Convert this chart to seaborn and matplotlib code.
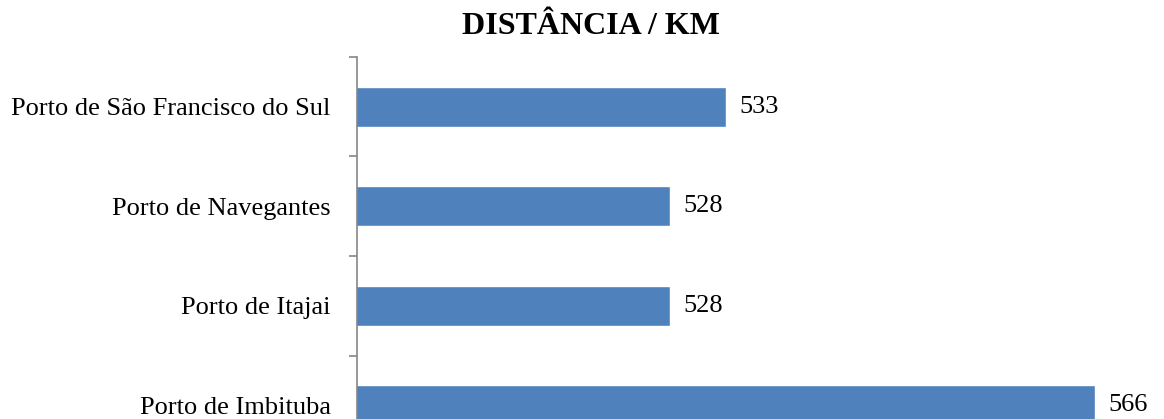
import numpy as np
import pandas as pd
import matplotlib.pyplot as plt
import seaborn as sns
from matplotlib.ticker import FixedLocator

plt.switch_backend('Agg')

# Chart data
portos = ["Porto de São Francisco do Sul", "Porto de Navegantes", "Porto de Itajai", "Porto de Imbituba"]
distancias = [533, 528, 528, 566]

sns.set_style("white")
plt.rcParams['font.family'] = ['Liberation Serif', 'DejaVu Serif']
plt.rcParams['text.color'] = 'black'
plt.rcParams['ytick.labelcolor'] = 'black'

df = pd.DataFrame({"porto": portos, "km": distancias})

fig = plt.figure(figsize=(11.64, 4.19), dpi=100)
# axes reach below the figure edge, as the reference is cropped at the bottom
ax = fig.add_axes([357 / 1164, 1 - 455 / 419, 1 - 357 / 1164, 398 / 419])

sns.barplot(data=df, x="km", y="porto", orient="h", color="#4F81BD",
            width=0.4, ax=ax, saturation=1)

ax.set_xlim(500, 572.2)
ax.set_ylim(3.5, -0.5)
ax.set_xlabel("")
ax.set_ylabel("")
ax.set_xticks([])

for side in ["top", "right", "bottom"]:
    ax.spines[side].set_visible(False)
ax.spines["left"].set_color("#868686")
ax.spines["left"].set_linewidth(1.2)

ax.tick_params(axis="y", which="major", left=True, length=0, pad=19, labelsize=19, labelcolor="black")
ax.yaxis.set_minor_locator(FixedLocator(np.arange(-0.5, 4, 1.0)))
ax.tick_params(axis="y", which="minor", left=True, length=6, width=1.2, color="#868686", direction="out")

for cont in ax.containers:
    ax.bar_label(cont, labels=[str(v) for v in distancias], padding=10, fontsize=19, color="black")

fig.text(591 / 1164, 1 - 27 / 419, "DISTÂNCIA / KM", ha="center", va="center",
         fontsize=23, fontweight="bold", color="black")

plt.savefig("out.png", dpi=100)
plt.close()
